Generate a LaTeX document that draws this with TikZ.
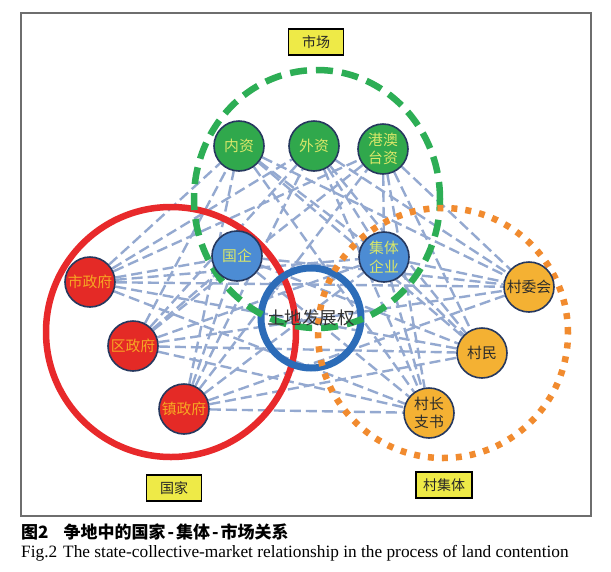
\documentclass[tikz,border=0pt]{standalone}
\usepackage{fontspec}
\setmainfont{Liberation Serif}
\newfontfamily\cjk{Noto Sans CJK SC}
\usetikzlibrary{backgrounds}
\definecolor{govred}{HTML}{E42A26}
\definecolor{govtext}{HTML}{F6A623}
\definecolor{mktgreen}{HTML}{30A84C}
\definecolor{mkttext}{HTML}{D9E769}
\definecolor{entblue}{HTML}{4C8CD4}
\definecolor{vilorange}{HTML}{F4B133}
\definecolor{viltext}{HTML}{2B2B2B}
\definecolor{nodeedge}{HTML}{26385E}
\definecolor{linkblue}{HTML}{94A9D0}
\definecolor{redring}{HTML}{E8292B}
\definecolor{greenring}{HTML}{2DAE55}
\definecolor{orangering}{HTML}{F18B2F}
\definecolor{bluering}{HTML}{2C6CB8}
\definecolor{tagyellow}{HTML}{EEEA47}
\definecolor{framegray}{HTML}{6E6E6E}
\pgfdeclarelayer{bg}
\pgfdeclarelayer{ringlayer}
\pgfsetlayers{bg,ringlayer,main}
\begin{document}
\begin{tikzpicture}[x=1pt,y=-1pt,
  actor/.style={circle, draw=nodeedge, line width=1.6pt, minimum size=50pt, inner sep=0pt, align=center, font=\cjk\fontsize{14.8}{18.5}\selectfont},
  gov/.style={actor, fill=govred, text=govtext},
  mkt/.style={actor, fill=mktgreen, text=mkttext},
  ent/.style={actor, fill=entblue, text=mkttext},
  vil/.style={actor, fill=vilorange, text=viltext},
  tag/.style={draw=black, line width=1.3pt, fill=tagyellow, minimum width=55pt, minimum height=26pt, inner sep=0pt, font=\cjk\fontsize{14}{16}\selectfont, text=black!85},
  link/.style={draw=linkblue, line width=2.4pt, dash pattern=on 11pt off 5pt},
  landring/.style={circle, draw=bluering, line width=7pt, minimum size=100pt, inner sep=0pt},
  landtext/.style={inner sep=0pt, font=\cjk\fontsize{17.5}{19}\selectfont, text=black!80},
  ringred/.style={draw=redring, line width=6.5pt},
  ringgreen/.style={draw=greenring, line width=6.5pt, dash pattern=on 17pt off 9pt},
  ringorange/.style={draw=orangering, line width=6.5pt, dash pattern=on 6pt off 8pt}
]
\useasboundingbox (0,0) rectangle (611,571);
\begin{pgfonlayer}{bg}
\fill[white] (0,0) rectangle (611,571);
\draw[framegray, line width=1.3pt] (21,13) rectangle (591,516);
\end{pgfonlayer}

% actors
\node[gov] (shi)  at (90,282)  {市政府};
\node[gov] (qu)   at (133,346) {区政府};
\node[gov] (zhen) at (184,409) {镇政府};
\node[mkt] (nei)  at (239,146) {内资};
\node[mkt] (wai)  at (314,146) {外资};
\node[mkt] (gang) at (383,149) {港澳\\台资};
\node[ent] (guoqi) at (237,256) {国企};
\node[ent] (jiti)  at (384,257) {集体\\企业};
\node[vil] (cwh) at (529,287) {村委会};
\node[vil] (cm)  at (482,353) {村民};
\node[vil] (czs) at (429,413) {村长\\支书};

% group rings
\begin{pgfonlayer}{ringlayer}
\draw[ringred] (171,332) circle[radius=125pt];
\node[landring] (ring) at (311,318) {};
\draw[ringgreen] (317,199) ellipse[x radius=123pt, y radius=129pt];
\draw[ringorange] (443,333) circle[radius=125pt];
\end{pgfonlayer}
\node[landtext] (land) at (ring) {土地发展权};

% connectors
\begin{pgfonlayer}{bg}
\foreach \g in {shi,qu,zhen}{
  \foreach \t in {nei,wai,gang,guoqi,jiti,cwh,cm,czs}{
    \draw[link] (\g) -- (\t);
  }
}
\foreach \m in {nei,wai,gang,guoqi,jiti}{
  \foreach \v in {cwh,cm,czs}{
    \draw[link] (\m) -- (\v);
  }
}
\foreach \m in {nei,wai,gang}{
  \draw[link] (\m) -- (jiti);
}
\end{pgfonlayer}

% group labels
\node[tag] (lmarket) at (316,42)  {市场};
\node[tag] (lstate)  at (174,488) {国家};
\node[tag, minimum width=56pt] (lvillage) at (444,485) {村集体};

% caption
\node[anchor=west, inner sep=0pt, font=\cjk\bfseries\fontsize{17}{19}\selectfont] (cap1) at (21,532) {图2\hspace{15pt}争地中的国家\kern2pt-\kern2pt集体\kern2pt-\kern2pt市场关系};
\node[anchor=west, inner sep=0pt, font=\fontsize{17.3}{19}\selectfont] (cap2) at (21,553) {Fig.2\hspace{6pt}The state-collective-market relationship in the process of land contention};
\end{tikzpicture}
\end{document}
